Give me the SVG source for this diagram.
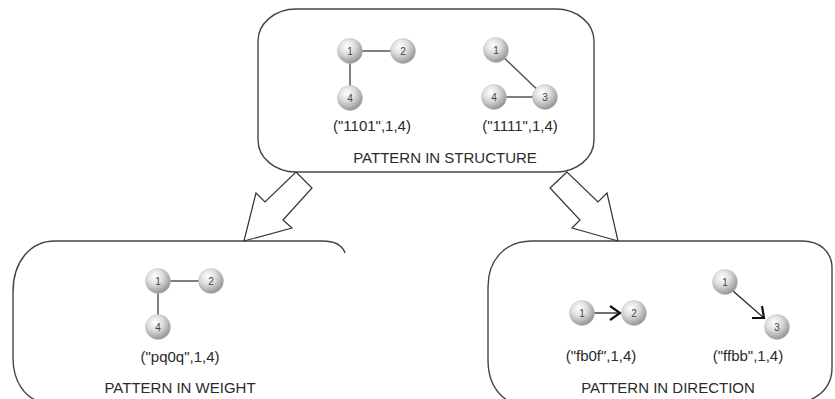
<svg xmlns="http://www.w3.org/2000/svg" width="835" height="399" viewBox="0 0 835 399">
  <defs>
    <radialGradient id="ball" cx="0.38" cy="0.32" r="0.72">
      <stop offset="0" stop-color="#ffffff"/>
      <stop offset="0.45" stop-color="#dcdcdc"/>
      <stop offset="1" stop-color="#8e8e8e"/>
    </radialGradient>
  </defs>
  <style>
    .box { fill: none; stroke: #444; stroke-width: 1.4; }
    .flow { fill: #fff; stroke: #333; stroke-width: 1.2; stroke-linejoin: miter; }
    .edge { stroke: #555; stroke-width: 1.5; fill: none; }
    .dir { stroke: #222; stroke-width: 1.3; fill: none; }
    .head { stroke: #111; stroke-width: 2.2; fill: none; stroke-linejoin: miter; }
    .ball { fill: url(#ball); stroke: #bbb; stroke-width: 0.5; }
    .num { font-family: "Liberation Sans", Arial, sans-serif; font-size: 10px; fill: #444; text-anchor: middle; }
    .lbl { font-family: "Liberation Sans", Arial, sans-serif; font-size: 15px; fill: #2a2a2a; text-anchor: middle; }
  </style>

  <rect x="0" y="0" width="835" height="399" fill="#fff"/>

  <!-- Containers -->
  <g id="structure">
    <rect class="box" x="258" y="9" width="336" height="163" rx="38" ry="32"/>
    <text class="lbl" x="445" y="163">PATTERN IN STRUCTURE</text>
  </g>
  <g id="weight">
    <path class="box" d="M345,253 Q341,241 322,241 L55,241 C30,241 13,262 13,292 L13,358 C13,382 25,397 40,402"/>
    <text class="lbl" x="180" y="393">PATTERN IN WEIGHT</text>
  </g>
  <g id="direction">
    <path class="box" d="M510,402 C496,394 488,380 488,360 L488,287 C488,260 505,241 532,241 L802,241 C820,241 832,252 832,268 L832,368 C832,385 822,396 805,402"/>
    <text class="lbl" x="668" y="393">PATTERN IN DIRECTION</text>
  </g>

  <!-- Connectors between containers -->
  <g id="connectors">
    <polygon class="flow" points="296,172 312,188 283,220 292,228 244,241 256,193 265,202"/>
    <polygon class="flow" points="567,172 550,188 580,220 572,228 618,241 607,193 598,202"/>
  </g>

  <!-- Structure patterns -->
  <g id="s1101">
    <line class="edge" x1="350" y1="51" x2="403" y2="51"/>
    <line class="edge" x1="350" y1="51" x2="350" y2="98"/>
    <circle class="ball" cx="350" cy="51" r="12.5"/><text class="num" x="350" y="55">1</text>
    <circle class="ball" cx="403" cy="51" r="12.5"/><text class="num" x="403" y="55">2</text>
    <circle class="ball" cx="350" cy="98" r="12.5"/><text class="num" x="350" y="102">4</text>
    <text class="lbl" x="372" y="131">("1101",1,4)</text>
  </g>
  <g id="s1111">
    <line class="edge" x1="496" y1="50" x2="545" y2="97"/>
    <line class="edge" x1="494" y1="97" x2="545" y2="97"/>
    <circle class="ball" cx="496" cy="50" r="12.5"/><text class="num" x="496" y="54">1</text>
    <circle class="ball" cx="494" cy="97" r="12.5"/><text class="num" x="494" y="101">4</text>
    <circle class="ball" cx="545" cy="97" r="12.5"/><text class="num" x="545" y="101">3</text>
    <text class="lbl" x="520" y="131">("1111",1,4)</text>
  </g>

  <!-- Weight pattern -->
  <g id="wpq0q">
    <line class="edge" x1="158" y1="281" x2="211" y2="281"/>
    <line class="edge" x1="158" y1="281" x2="158" y2="327"/>
    <circle class="ball" cx="158" cy="281" r="12.5"/><text class="num" x="158" y="285">1</text>
    <circle class="ball" cx="211" cy="281" r="12.5"/><text class="num" x="211" y="285">2</text>
    <circle class="ball" cx="158" cy="327" r="12.5"/><text class="num" x="158" y="331">4</text>
    <text class="lbl" x="180" y="362">("pq0q",1,4)</text>
  </g>

  <!-- Direction patterns -->
  <g id="dfb0f">
    <line class="dir" x1="594" y1="313" x2="620" y2="313"/>
    <polyline class="head" points="610,306 620,313 610,320"/>
    <circle class="ball" cx="582" cy="313" r="12.5"/><text class="num" x="582" y="317">1</text>
    <circle class="ball" cx="634" cy="313" r="12.5"/><text class="num" x="634" y="317">2</text>
    <text class="lbl" x="601" y="361">("fb0f",1,4)</text>
  </g>
  <g id="dffbb">
    <line class="dir" x1="733" y1="291" x2="764" y2="318"/>
    <polyline class="head" points="752,318 764,318 762,306"/>
    <circle class="ball" cx="725" cy="282" r="12.5"/><text class="num" x="725" y="286">1</text>
    <circle class="ball" cx="777" cy="327" r="12.5"/><text class="num" x="777" y="331">3</text>
    <text class="lbl" x="748" y="361">("ffbb",1,4)</text>
  </g>
</svg>
